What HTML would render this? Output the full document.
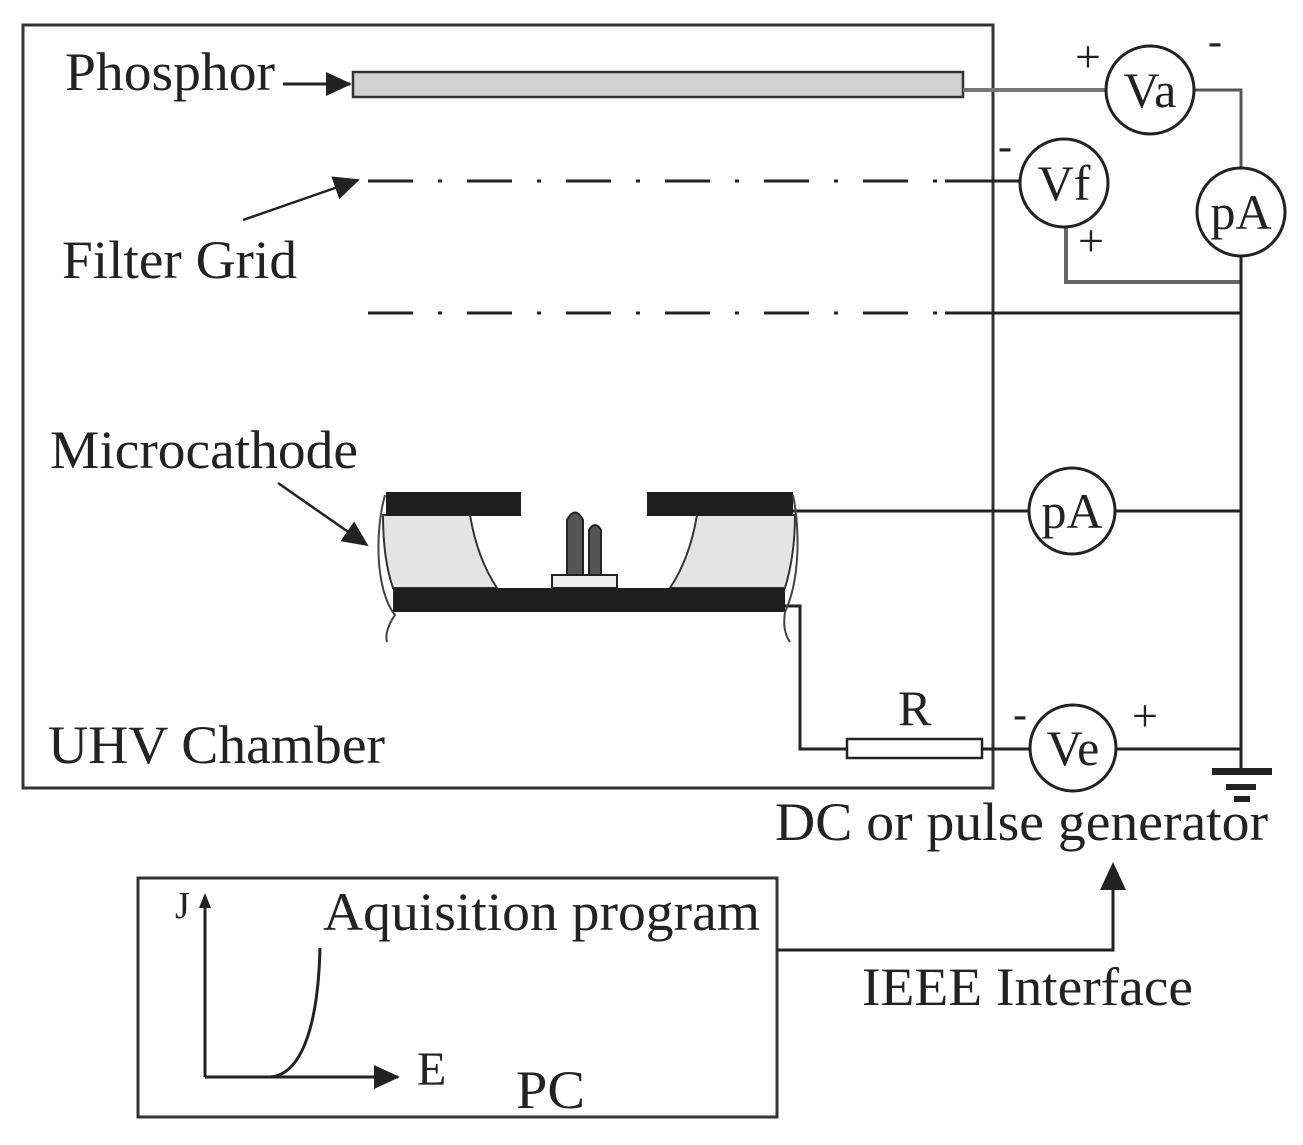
<!DOCTYPE html>
<html><head><style>body{margin:0;background:#fff}svg{display:block}</style></head><body>
<svg width="1303" height="1145" viewBox="0 0 1303 1145" xmlns="http://www.w3.org/2000/svg" font-family="'Liberation Serif',serif" fill="#222">
<defs><marker id="ab" markerWidth="26" markerHeight="24" refX="24" refY="12" orient="auto" markerUnits="userSpaceOnUse"><path d="M0,0 L26,12 L0,24 Z" fill="#222"/></marker></defs>
<g stroke="#333" fill="none" stroke-width="3">
<rect x="23" y="25" width="970" height="763"/>
<rect x="138" y="878" width="639" height="239"/>
</g>
<rect x="353" y="72" width="610" height="25" fill="#d2d2d2" stroke="#333" stroke-width="2.5"/>
<g stroke="#222" stroke-width="3" fill="none">
<line x1="283" y1="84" x2="350" y2="84" marker-end="url(#ab)"/>
<line x1="243" y1="220" x2="358" y2="180" stroke-width="2.5" marker-end="url(#ab)"/>
<line x1="278" y1="483" x2="367" y2="545" stroke-width="2.5" marker-end="url(#ab)"/>
<line x1="368" y1="181" x2="945" y2="181" stroke-dasharray="45,25,4,25"/>
<line x1="368" y1="313" x2="945" y2="313" stroke-dasharray="45,25,4,25"/>
<line x1="945" y1="181" x2="1020" y2="181"/>
<line x1="945" y1="313" x2="1241" y2="313"/>
<line x1="963" y1="90" x2="1106" y2="90" stroke="#777" stroke-width="4"/>
<polyline points="1194,90 1241,90 1241,168" stroke="#555"/>
<polyline points="1066,227 1066,282 1241,282" stroke="#666" stroke-width="4"/>
<line x1="1241" y1="256" x2="1241" y2="750"/>
<line x1="790" y1="511" x2="1029" y2="511"/>
<line x1="1115" y1="511" x2="1241" y2="511"/>
<polyline points="785,606 800,606 800,749 847,749"/>
<line x1="982" y1="749" x2="1030" y2="749"/>
<polyline points="1116,749 1241,749 1241,771"/>
<rect x="847" y="739" width="135" height="19" stroke-width="2.5"/>
<circle cx="1150" cy="90" r="44"/>
<circle cx="1064" cy="183" r="44"/>
<circle cx="1241" cy="212" r="44"/>
<circle cx="1072" cy="511" r="43"/>
<circle cx="1073" cy="748" r="43"/>
<polyline points="777,950 1113,950 1113,880"/>
<line x1="205" y1="1077" x2="205" y2="902" stroke-width="3"/>
<line x1="205" y1="1077" x2="398" y2="1077" marker-end="url(#ab)"/>
<path d="M205,1077 L270,1077 C300,1075 318,1030 320,948"/>
</g>
<path d="M1100,862 L1126,862 L1113,890 Z" transform="rotate(180 1113 876)" fill="#222"/>
<path d="M199,908 L205,893 L211,908 Z" fill="#222"/>
<g fill="#222"><rect x="1212" y="768" width="60" height="7"/><rect x="1226" y="784" width="30" height="6"/><rect x="1234" y="796" width="16" height="6"/></g>
<path d="M383,515 L470,515 C475,545 485,570 497,588 L393,588 C385,565 383,540 383,515 Z" fill="#e4e4e4" stroke="#333" stroke-width="2"/>
<path d="M795,515 L697,515 C692,545 682,570 670,588 L785,588 C792,565 795,540 795,515 Z" fill="#e4e4e4" stroke="#333" stroke-width="2"/>
<rect x="386" y="492" width="135" height="24" fill="#1e1e1e"/>
<rect x="647" y="492" width="146" height="24" fill="#1e1e1e"/>
<rect x="393" y="588" width="392" height="24" fill="#1e1e1e"/>
<path d="M385,495 C375,530 375,590 395,615 C388,625 385,635 387,642" fill="none" stroke="#444" stroke-width="2"/>
<path d="M793,495 C800,530 800,580 785,612 C783,625 785,635 790,642" fill="none" stroke="#444" stroke-width="2"/>
<rect x="552" y="575" width="65" height="13" fill="#eee" stroke="#222" stroke-width="2"/>
<path d="M567,575 L567,520 Q575,505 583,520 L583,575 Z" fill="#555" stroke="#222" stroke-width="2"/>
<path d="M589,575 L589,530 Q595,520 601,530 L601,575 Z" fill="#555" stroke="#222" stroke-width="2"/>
<g font-size="54">
<text x="65" y="90" textLength="210" lengthAdjust="spacingAndGlyphs">Phosphor</text>
<text x="62" y="278" textLength="235" lengthAdjust="spacingAndGlyphs">Filter Grid</text>
<text x="50" y="468" textLength="308" lengthAdjust="spacingAndGlyphs">Microcathode</text>
<text x="48" y="763" textLength="337" lengthAdjust="spacingAndGlyphs">UHV Chamber</text>
<text x="775" y="840" textLength="493" lengthAdjust="spacingAndGlyphs">DC or pulse generator</text>
<text x="862" y="1005" textLength="331" lengthAdjust="spacingAndGlyphs">IEEE Interface</text>
<text x="323" y="930" textLength="437" lengthAdjust="spacingAndGlyphs">Aquisition program</text>
<text x="516" y="1108" textLength="69" lengthAdjust="spacingAndGlyphs">PC</text>
<text x="417" y="1085" font-size="48">E</text>
<text x="175" y="918" font-size="38">J</text>
<text x="898" y="725" font-size="50">R</text>
<g text-anchor="middle" font-size="50">
<text x="1150" y="107">Va</text>
<text x="1064" y="200">Vf</text>
<text x="1241" y="229">pA</text>
<text x="1072" y="528">pA</text>
<text x="1073" y="765">Ve</text>
<text x="1088" y="72" font-size="46">+</text>
<text x="1215" y="55" font-size="42">-</text>
<text x="1005" y="160" font-size="42">-</text>
<text x="1091" y="256" font-size="46">+</text>
<text x="1020" y="728" font-size="42">-</text>
<text x="1145" y="731" font-size="46">+</text>
</g></g>
</svg>
</body></html>
